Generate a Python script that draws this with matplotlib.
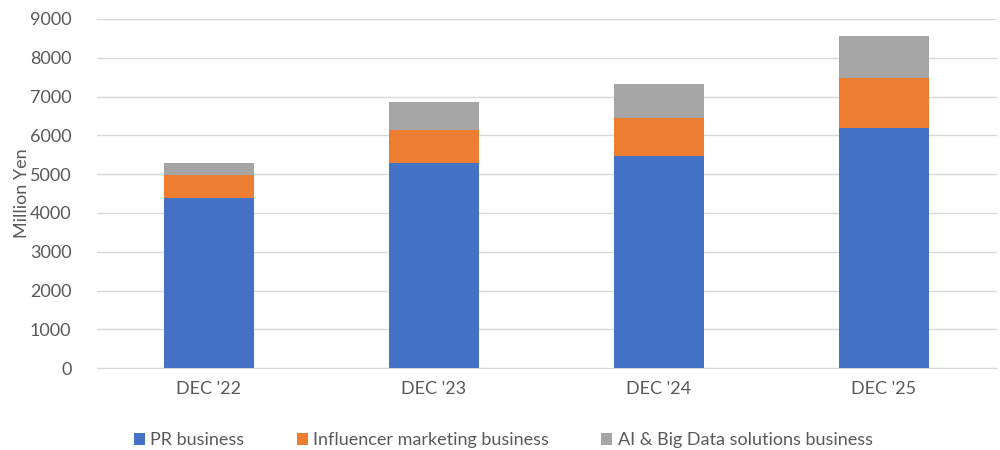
"""Stacked revenue bars by business segment, DEC '22 - DEC '25."""

import matplotlib
matplotlib.use("Agg")
import matplotlib.pyplot as plt
import numpy as np

categories = ["DEC '22", "DEC '23", "DEC '24", "DEC '25"]
pr_business = [4380, 5290, 5460, 6190]
influencer = [595, 840, 995, 1275]
ai_big_data = [300, 725, 880, 1090]
series_names = ["PR business", "Influencer marketing business",
                "AI & Big Data solutions business"]
colors = ["#4472C4", "#ED7D31", "#A5A5A5"]

plt.rcParams["font.family"] = ["Lato", "DejaVu Sans"]
text_color = "#595959"

fig = plt.figure(figsize=(10, 4.5), dpi=100)
ax = fig.add_axes([0.0965, 0.182, 0.9, 0.776])

x = np.arange(len(categories))
bottom = np.zeros(len(categories))
for vals, name, c in zip([pr_business, influencer, ai_big_data], series_names, colors):
    ax.bar(x, vals, width=0.4, bottom=bottom, color=c, label=name, zorder=3)
    bottom += np.array(vals)

ax.set_xlim(-0.5, len(categories) - 0.5)
ax.set_ylim(0, 9000)
ax.set_yticks(np.arange(0, 9001, 1000))
ax.set_xticks(x)
ax.set_xticklabels(categories)
ax.tick_params(axis="both", length=0, labelsize=13, colors=text_color)
ax.tick_params(axis="y", pad=18)
ax.tick_params(axis="x", pad=9)
ax.grid(axis="y", color="#D9D9D9", lw=1, zorder=0)
for s in ["top", "right", "left"]:
    ax.spines[s].set_visible(False)
ax.spines["bottom"].set_color("#D9D9D9")
ax.set_ylabel("Million Yen", fontsize=13, color=text_color, labelpad=0)

ax.legend(loc="upper center", bbox_to_anchor=(0.452, -0.137), ncol=3, frameon=False,
          fontsize=13, labelcolor=text_color, handlelength=0.6, handleheight=0.6,
          handletextpad=0.3, columnspacing=2.9)

fig.savefig("out.png", dpi=100)
